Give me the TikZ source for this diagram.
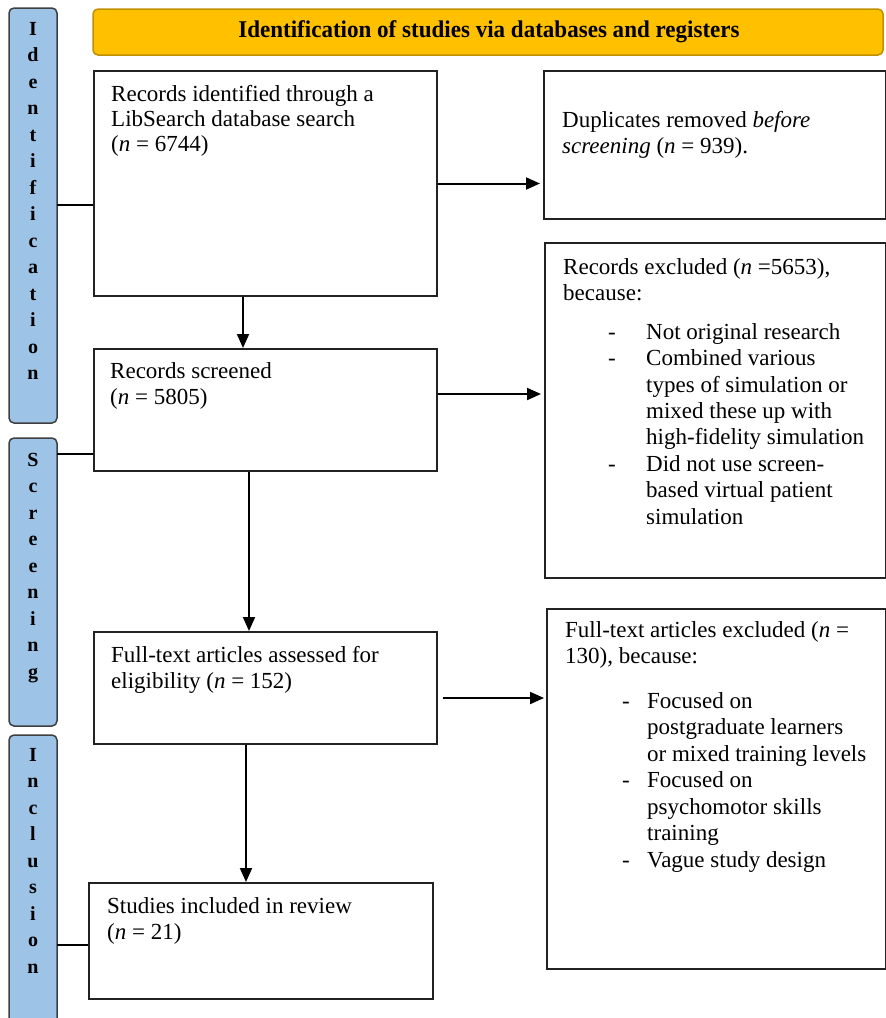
\documentclass[tikz,border=0pt]{standalone}
\usepackage{fontspec}
\setmainfont{Liberation Serif}
\usetikzlibrary{arrows.meta}
\definecolor{barblue}{HTML}{9DC3E6}
\definecolor{barline}{HTML}{3F3F3F}
\definecolor{hdrfill}{HTML}{FFC000}
\definecolor{hdrline}{HTML}{BF9000}
\definecolor{boxline}{HTML}{222222}
\begin{document}
\begin{tikzpicture}[x=1pt,y=-1pt,
  box/.style={draw=boxline, line width=2pt, inner sep=0pt, anchor=north west},
  bar/.style={draw=barline, fill=barblue, line width=1.5pt, rounded corners=5pt},
  hdr/.style={draw=hdrline, fill=hdrfill, line width=1.5pt, rounded corners=5pt},
  txt/.style={inner sep=0pt, align=left, anchor=base west, font=\fontsize{23}{26.3}\selectfont},
  lett/.style={inner sep=0pt, anchor=base, font=\fontsize{20}{20}\selectfont\bfseries},
  arr/.style={draw=black, line width=2pt, -{Triangle[length=14pt,width=12pt]}},
  stub/.style={draw=black, line width=1.6pt}]
\useasboundingbox (0,0) rectangle (886,1018);
% side bars
\draw[bar] (9,8) rectangle (57,423);
\coordinate (idE) at (57,205);
\draw[bar] (9,438) rectangle (57,726);
\coordinate (scE) at (57,454);
\draw[bar] (9,735) rectangle (57,1030);
\coordinate (inE) at (57,945);
\foreach \l [count=\k from 0] in {I,d,e,n,t,i,f,i,c,a,t,i,o,n}
  \node[lett] (id\k) at (33,35+26.5*\k) {\l};
\foreach \l [count=\k from 0] in {S,c,r,e,e,n,i,n,g}
  \node[lett] (sc\k) at (33,466+26.5*\k) {\l};
\foreach \l [count=\k from 0] in {I,n,c,l,u,s,i,o,n}
  \node[lett] (in\k) at (33,761+26.5*\k) {\l};
% header
\draw[hdr] (93,9) rectangle (883,55);
\node[inner sep=0pt, font=\fontsize{24}{24}\selectfont\bfseries] (head) at (489,32) {\scalebox{0.96}[1]{Identification of studies via databases and registers}};
% boxes
\node[box, minimum width=343pt, minimum height=225pt] (b1) at (93,70) {};
\node[box, minimum width=342pt, minimum height=148pt] (dup) at (543,70) {};
\node[box, minimum width=343pt, minimum height=122pt] (scr) at (93,348) {};
\node[box, minimum width=341pt, minimum height=335pt] (exc) at (544,242) {};
\node[box, minimum width=343pt, minimum height=112pt] (ft) at (93,631) {};
\node[box, minimum width=339pt, minimum height=360pt] (ftx) at (546,608) {};
\node[box, minimum width=344pt, minimum height=116pt] (inc) at (88,882) {};
% texts (anchor = baseline of the last line)
\node[txt, font=\fontsize{23}{25}\selectfont] (t1) at (111,151.7) {Records identified through a\\LibSearch database search\\(\textit{n} = 6744)};
\node[txt] (t2) at (562,153.3) {Duplicates removed \textit{before}\\\textit{screening} (\textit{n} = 939).};
\node[txt] (t3) at (110,404.3) {Records screened\\(\textit{n} = 5805)};
\node[txt] (t4) at (563,300.3) {Records excluded (\textit{n} =5653),\\because:};
\node[txt, font=\fontsize{23}{26.4}\selectfont] (t4l) at (608,524) {\makebox[38pt][l]{-}Not original research\\
  \makebox[38pt][l]{-}Combined various\\
  \hspace*{38pt}types of simulation or\\
  \hspace*{38pt}mixed these up with\\
  \hspace*{38pt}high-fidelity simulation\\
  \makebox[38pt][l]{-}Did not use screen-\\
  \hspace*{38pt}based virtual patient\\
  \hspace*{38pt}simulation};
\node[txt] (t5) at (111,688.3) {Full-text articles assessed for\\eligibility (\textit{n} = 152)};
\node[txt] (t6) at (565,663.3) {Full-text articles excluded (\textit{n} =\\130), because:};
\node[txt, font=\fontsize{23}{26.5}\selectfont] (t6l) at (622,867) {\makebox[25pt][l]{-}Focused on\\
  \hspace*{25pt}postgraduate learners\\
  \hspace*{25pt}or mixed training levels\\
  \makebox[25pt][l]{-}Focused on\\
  \hspace*{25pt}psychomotor skills\\
  \hspace*{25pt}training\\
  \makebox[25pt][l]{-}Vague study design};
\node[txt] (t7) at (107,939.3) {Studies included in review\\(\textit{n} = 21)};
% stubs
\draw[stub] (idE) -- (b1.west |- idE);
\draw[stub] (scE) -- (scr.west |- scE);
\draw[stub] (inE) -- (inc.west |- inE);
% arrows
\draw[arr, shorten >=3pt] (b1.east) -- (dup.west |- b1.east);
\draw[arr] (b1.south -| 243,0) -- (scr.north -| 243,0);
\draw[arr, shorten >=3pt] (scr.east |- 0,394) -- (exc.west |- 0,394);
\draw[arr] (scr.south -| 249,0) -- (ft.north -| 249,0);
\draw[arr, shorten <=5pt, shorten >=2pt] (ft.east |- 0,698) -- (ftx.west |- 0,698);
\draw[arr] (ft.south -| 246,0) -- (inc.north -| 246,0);
\end{tikzpicture}
\end{document}
